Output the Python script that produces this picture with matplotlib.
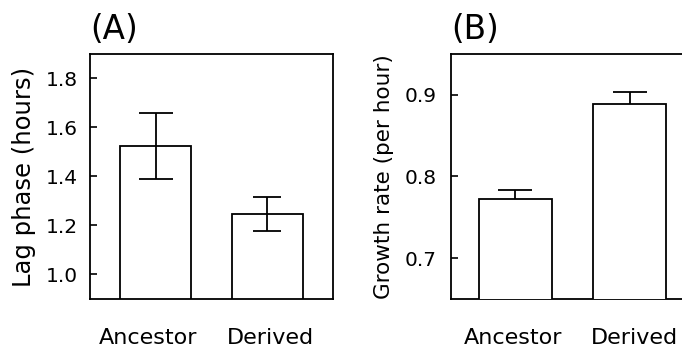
import matplotlib
matplotlib.use("Agg")
import matplotlib.pyplot as plt
import numpy as np

plt.rcParams['font.family'] = ['DejaVu Sans']

groups = ['Ancestor', 'Derived']

# panel A: lag phase (hours)
lag_mean = [1.526, 1.247]
lag_err = [0.135, 0.068]

# panel B: growth rate (per hour)
growth_mean = [0.773, 0.889]
growth_err = [0.010, 0.014]

fig = plt.figure(figsize=(6.82, 3.47), dpi=100)
axA = fig.add_axes([90/682, 48/347, 243/682, 245/347])
axB = fig.add_axes([451/682, 48/347, 243/682, 245/347])

x = np.arange(len(groups))
bw = 0.635

def style(ax, title, ytk, ylim, xlim, ypad, lab_shift):
    ax.set_ylim(*ylim)
    ax.set_xlim(*xlim)
    ax.set_yticks(ytk)
    ax.set_yticklabels([f'{v:.1f}' for v in ytk])
    ax.set_xticks(x + np.array(lab_shift))
    ax.set_xticklabels(groups, fontsize=16)
    ax.tick_params(axis='y', direction='in', length=5, width=1.2, labelsize=14.5, pad=ypad)
    ax.tick_params(axis='x', length=0, pad=21)
    for s in ax.spines.values():
        s.set_linewidth(1.3)
    ax.set_title(title, loc='left', fontsize=23.5, pad=11)

# A: error bar drawn over the bars
axA.bar(x, lag_mean, width=bw, color='white', edgecolor='black', linewidth=1.3, zorder=2)
for xi, m, e, cs in zip(x, lag_mean, lag_err, [12.5, 10]):
    axA.errorbar(xi, m, yerr=e, fmt='none', ecolor='black', elinewidth=1.3,
                 capsize=cs, capthick=1.3, zorder=3)
style(axA, '(A)', [1.0, 1.2, 1.4, 1.6, 1.8], (0.9, 1.9), (-0.589, 1.589), 8.5, [-0.07, 0.03])
axA.set_ylabel('Lag phase (hours)', fontsize=17.5, labelpad=7)

# B: bars cover the lower half of the error bar
axB.bar(x, growth_mean, width=bw, color='white', edgecolor='black', linewidth=1.3, zorder=3)
axB.errorbar(x, growth_mean, yerr=growth_err, fmt='none', ecolor='black', elinewidth=1.3,
             capsize=12.5, capthick=1.3, zorder=2)
style(axB, '(B)', [0.7, 0.8, 0.9], (0.65, 0.95), (-0.5625, 1.5625), 10, [-0.02, 0.04])
axB.set_ylabel('Growth rate (per hour)', fontsize=15.5, labelpad=8)

fig.savefig('out.png', dpi=100)
